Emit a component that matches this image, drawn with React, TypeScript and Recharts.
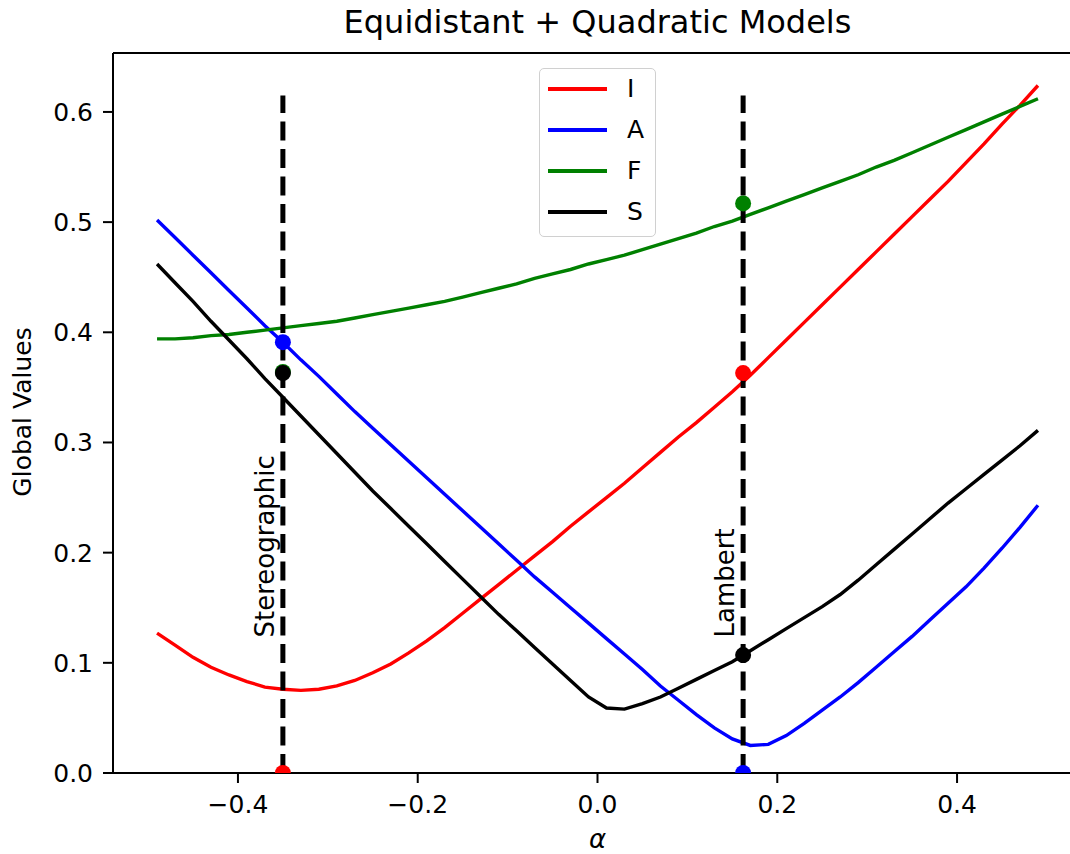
import React from "react";
import { ComposedChart, Line, Scatter, XAxis, YAxis, ReferenceLine } from "recharts";

// alpha sample grid (x axis)
const alpha = [
  -0.49, -0.47, -0.45, -0.43, -0.41, -0.39, -0.37, -0.35, -0.33, -0.31,
  -0.29, -0.27, -0.25, -0.23, -0.21, -0.19, -0.17, -0.15, -0.13, -0.11,
  -0.09, -0.07, -0.05, -0.03, -0.01, 0.01, 0.03, 0.05, 0.07, 0.09,
  0.11, 0.13, 0.15, 0.17, 0.19, 0.21, 0.23, 0.25, 0.27, 0.29,
  0.31, 0.33, 0.35, 0.37, 0.39, 0.41, 0.43, 0.45, 0.47, 0.49,
];

const seriesI = [
  0.127, 0.116, 0.105, 0.096, 0.089, 0.083, 0.078, 0.076, 0.075, 0.076,
  0.079, 0.084, 0.091, 0.099, 0.109, 0.12, 0.132, 0.145, 0.158, 0.171,
  0.184, 0.197, 0.21, 0.224, 0.237, 0.25, 0.263, 0.277, 0.291, 0.305,
  0.318, 0.332, 0.346, 0.361, 0.377, 0.393, 0.409, 0.425, 0.441, 0.457,
  0.473, 0.489, 0.505, 0.521, 0.537, 0.554, 0.571, 0.589, 0.606, 0.624,
];

const seriesA = [
  0.502, 0.486, 0.47, 0.454, 0.438, 0.422, 0.406, 0.391, 0.375, 0.36,
  0.344, 0.328, 0.313, 0.298, 0.283, 0.268, 0.253, 0.238, 0.223, 0.208,
  0.193, 0.178, 0.164, 0.15, 0.136, 0.122, 0.108, 0.094, 0.079, 0.066,
  0.053, 0.041, 0.031, 0.025, 0.026, 0.034, 0.045, 0.057, 0.069, 0.082,
  0.096, 0.11, 0.124, 0.139, 0.154, 0.169, 0.186, 0.204, 0.223, 0.243,
];

const seriesF = [
  0.394, 0.394, 0.395, 0.397, 0.398, 0.4, 0.402, 0.404, 0.406, 0.408,
  0.41, 0.413, 0.416, 0.419, 0.422, 0.425, 0.428, 0.432, 0.436, 0.44,
  0.444, 0.449, 0.453, 0.457, 0.462, 0.466, 0.47, 0.475, 0.48, 0.485,
  0.49, 0.496, 0.501, 0.507, 0.513, 0.519, 0.525, 0.531, 0.537, 0.543,
  0.55, 0.556, 0.563, 0.57, 0.577, 0.584, 0.591, 0.598, 0.605, 0.612,
];

const seriesS = [
  0.462, 0.445, 0.428, 0.41, 0.393, 0.376, 0.358, 0.341, 0.324, 0.307,
  0.29, 0.273, 0.256, 0.24, 0.224, 0.208, 0.192, 0.176, 0.16, 0.144,
  0.129, 0.114, 0.099, 0.084, 0.069, 0.059, 0.058, 0.063, 0.069, 0.077,
  0.085, 0.093, 0.101, 0.111, 0.121, 0.131, 0.141, 0.151, 0.162, 0.175,
  0.189, 0.203, 0.217, 0.231, 0.245, 0.258, 0.271, 0.284, 0.297, 0.311,
];

const seriesNames = ["I", "A", "F", "S"];
const seriesColors = ["#ff0000", "#0000ff", "#008000", "#000000"];

// projection markers
const markerAlpha = [-0.35, 0.162];
const markerNames = ["Stereographic", "Lambert"];
const markerTop = 0.615;
const markerLabelY = 0.123;
const markerI = [0.0, 0.363];
const markerA = [0.391, 0.0];
const markerF = [0.364, 0.517];
const markerS = [0.363, 0.107];

const xTicks = [-0.4, -0.2, 0.0, 0.2, 0.4];
const yTicks = [0.0, 0.1, 0.2, 0.3, 0.4, 0.5, 0.6];
const xDomain = [-0.539, 0.539];
const yDomain = [0, 0.6535];

const FONT = "'DejaVu Sans', sans-serif";

const table = alpha.map((x, i) => ({
  x,
  I: seriesI[i],
  A: seriesA[i],
  F: seriesF[i],
  S: seriesS[i],
}));

const markerValues = [markerI, markerA, markerF, markerS];

const fmtX = (v: number) => (v < 0 ? "\u2212" : "") + Math.abs(v).toFixed(1);
const fmtY = (v: number) => v.toFixed(1);

const tickStyle = { fontSize: 25, fill: "#000", fontFamily: FONT };

export default function App() {
  return (
    <div
      style={{
        position: "absolute",
        left: 0,
        top: 0,
        width: 1070,
        height: 854,
        overflow: "hidden",
        background: "#fff",
        fontFamily: FONT,
      }}
    >
      <div style={{ position: "absolute", left: 0, top: 0 }}>
        <ComposedChart
          width={1100}
          height={854}
          data={table}
          margin={{ top: 53, right: 18, bottom: 41, left: 0 }}
        >
          <XAxis
            dataKey="x"
            type="number"
            domain={xDomain}
            allowDataOverflow
            ticks={xTicks}
            interval={0}
            tickFormatter={fmtX}
            tick={tickStyle}
            tickSize={10}
            tickMargin={12}
            height={40}
            axisLine={{ stroke: "#000", strokeWidth: 2 }}
            tickLine={{ stroke: "#000", strokeWidth: 2 }}
          />
          <YAxis
            type="number"
            domain={yDomain}
            allowDataOverflow
            ticks={yTicks}
            interval={0}
            tickFormatter={fmtY}
            tick={tickStyle}
            tickSize={10}
            tickMargin={10}
            width={113}
            axisLine={{ stroke: "#000", strokeWidth: 2 }}
            tickLine={{ stroke: "#000", strokeWidth: 2 }}
          />

          {/* top frame edge */}
          <ReferenceLine y={yDomain[1]} stroke="#000" strokeWidth={2} />

          {seriesNames.map((name, i) => (
            <Line
              key={name}
              dataKey={name}
              type="linear"
              stroke={seriesColors[i]}
              strokeWidth={3.4}
              dot={false}
              activeDot={false}
              isAnimationActive={false}
            />
          ))}

          {markerAlpha.map((a) => (
            <ReferenceLine
              key={"ref" + a}
              segment={[
                { x: a, y: 0 },
                { x: a, y: markerTop },
              ]}
              stroke="#000"
              strokeWidth={5}
              strokeDasharray="19 8.5"
            />
          ))}

          {seriesNames.map((name, i) => (
            <Scatter
              key={"dot" + name}
              data={markerAlpha.map((a, k) => ({ x: a, y: markerValues[i][k] }))}
              dataKey="y"
              fill={seriesColors[i]}
              isAnimationActive={false}
              shape={(p: any) => (
                <circle cx={p.cx} cy={p.cy} r={8} fill={seriesColors[i]} />
              )}
            />
          ))}

          <Scatter
            data={markerAlpha.map((a, k) => ({ x: a, y: markerLabelY, label: markerNames[k] }))}
            dataKey="y"
            isAnimationActive={false}
            shape={(p: any) => {
              const tx = p.cx - 9;
              const ty = p.cy;
              return (
                <text
                  x={tx}
                  y={ty}
                  transform={`rotate(-90 ${tx} ${ty})`}
                  textAnchor="start"
                  fontSize={26}
                  fontFamily={FONT}
                  fill="#000"
                >
                  {p.payload.label}
                </text>
              );
            }}
          />
        </ComposedChart>
      </div>

      {/* title */}
      <div
        style={{
          position: "absolute",
          left: 0,
          width: 1195,
          top: 6,
          textAlign: "center",
          fontSize: 32,
          lineHeight: "32px",
          color: "#000",
          whiteSpace: "nowrap",
        }}
      >
        Equidistant + Quadratic Models
      </div>

      {/* x label */}
      <div
        style={{
          position: "absolute",
          left: 0,
          width: 1195,
          top: 826,
          textAlign: "center",
          fontSize: 26,
          lineHeight: "26px",
          fontStyle: "italic",
          color: "#000",
        }}
      >
        α
      </div>

      {/* y label */}
      <div
        style={{
          position: "absolute",
          left: 22,
          top: 412,
          transform: "translate(-50%, -50%) rotate(-90deg)",
          fontSize: 25,
          lineHeight: "25px",
          whiteSpace: "nowrap",
          color: "#000",
        }}
      >
        Global Values
      </div>

      {/* legend */}
      <div
        style={{
          position: "absolute",
          left: 539,
          top: 68,
          width: 117,
          height: 169,
          boxSizing: "border-box",
          border: "1.5px solid #d0d0d0",
          borderRadius: 5,
          background: "rgba(255,255,255,0.8)",
        }}
      >
        {seriesNames.map((name, i) => (
          <div
            key={"lg" + name}
            style={{
              position: "absolute",
              left: 0,
              top: 20 + i * 41 - 14,
              height: 28,
              width: 117,
            }}
          >
            <div
              style={{
                position: "absolute",
                left: 8,
                top: 12,
                width: 59,
                height: 3.5,
                background: seriesColors[i],
              }}
            />
            <div
              style={{
                position: "absolute",
                left: 87,
                top: 0,
                fontSize: 25,
                lineHeight: "28px",
                color: "#000",
              }}
            >
              {name}
            </div>
          </div>
        ))}
      </div>
    </div>
  );
}
